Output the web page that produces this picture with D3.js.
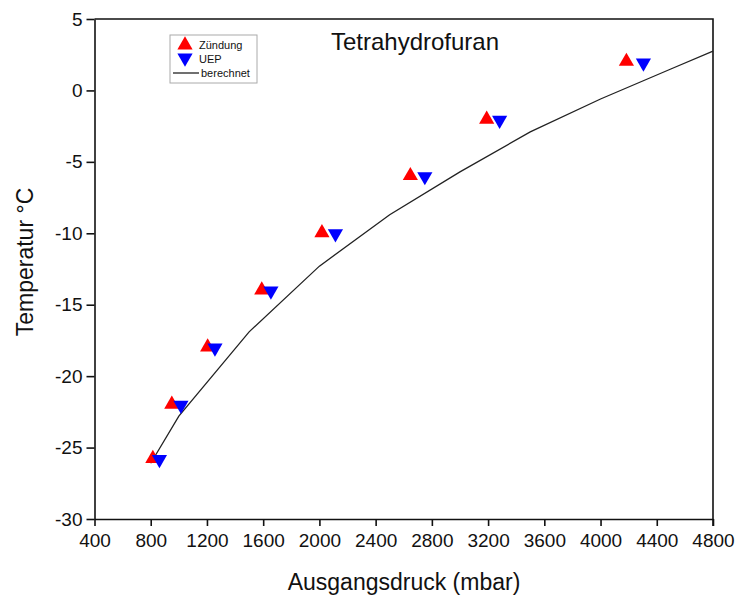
<!DOCTYPE html>
<html>
<head>
<meta charset="utf-8">
<script src="https://cdn.jsdelivr.net/npm/d3@7"></script>
<style>
  body { margin: 0; background: #fff; }
  text { font-family: "Liberation Sans", Arial, sans-serif; fill: #111; }
</style>
</head>
<body>
<div id="chart"></div>
<script>
// measured points (mbar, °C)
const zuendungX = [815, 950, 1205, 1590, 2018, 2647, 3190, 4184];
const zuendungY = [-25.7, -21.9, -17.9, -13.9, -9.9, -5.9, -1.95, 2.1];
const uepX = [862, 1015, 1257, 1655, 2114, 2750, 3282, 4305];
const uepY = [-25.9, -22.1, -18.1, -14.1, -10.1, -6.1, -2.15, 1.85];
// calculated curve
const calcX = [800, 1000, 1500, 2000, 2500, 3000, 3500, 4000, 4500, 4800];
const calcY = [-26.1, -22.8, -16.9, -12.3, -8.7, -5.7, -2.9, -0.6, 1.5, 2.75];
const xTicks = d3.range(400, 4801, 400);
const yTicks = d3.range(-30, 6, 5);

const width = 740, height = 599;
const margin = {left: 94.5, right: 27, top: 19, bottom: 80};

const svg = d3.select('#chart').append('svg')
  .attr('width', width).attr('height', height);

const x = d3.scaleLinear().domain([400, 4800]).range([margin.left, width - margin.right]);
const y = d3.scaleLinear().domain([-30, 5]).range([height - margin.bottom, margin.top]);

// axes (plain hyphen for negatives, no thousands separator)
const fmt = d => String(d);
const xAxis = svg.append('g')
  .attr('transform', `translate(0,${y(-30)})`)
  .call(d3.axisBottom(x).tickValues(xTicks).tickFormat(fmt).tickSize(7).tickPadding(8).tickSizeOuter(0));
const yAxis = svg.append('g')
  .attr('transform', `translate(${x(400)},0)`)
  .call(d3.axisLeft(y).tickValues(yTicks).tickFormat(fmt).tickSize(8).tickPadding(4).tickSizeOuter(0));
[xAxis, yAxis].forEach(a => {
  a.selectAll('path').attr('stroke', '#111').attr('stroke-width', 1.6);
  a.selectAll('line').attr('stroke', '#111').attr('stroke-width', 1.6);
  a.selectAll('text').style('font-size', '19px').attr('fill', '#111');
});

// top and right frame
svg.append('path')
  .attr('d', `M${x(400)},${y(5)}H${x(4800)}V${y(-30) + 7}`)
  .attr('fill', 'none').attr('stroke', '#111').attr('stroke-width', 1.6);

// calculated line
svg.append('path')
  .datum(calcX.map((d, i) => [d, calcY[i]]))
  .attr('d', d3.line().x(d => x(d[0])).y(d => y(d[1])))
  .attr('fill', 'none').attr('stroke', '#222').attr('stroke-width', 1.3);

const tri = d3.symbol().type(d3.symbolTriangle).size(100);

svg.append('g').selectAll('path')
  .data(zuendungX.map((d, i) => [d, zuendungY[i]]))
  .join('path')
  .attr('d', tri)
  .attr('transform', d => `translate(${x(d[0])},${y(d[1]) + 1})`)
  .attr('fill', '#ff0000');

svg.append('g').selectAll('path')
  .data(uepX.map((d, i) => [d, uepY[i]]))
  .join('path')
  .attr('d', tri)
  .attr('transform', d => `translate(${x(d[0])},${y(d[1]) - 1}) rotate(180)`)
  .attr('fill', '#0000ff');

// title
svg.append('text')
  .attr('x', 415).attr('y', 50)
  .attr('text-anchor', 'middle')
  .style('font-size', '24px')
  .text('Tetrahydrofuran');

// axis titles
svg.append('text')
  .attr('x', 404).attr('y', 590)
  .attr('text-anchor', 'middle')
  .style('font-size', '23px')
  .text('Ausgangsdruck (mbar)');
svg.append('text')
  .attr('transform', `translate(33,262) rotate(-90)`)
  .attr('text-anchor', 'middle')
  .style('font-size', '23px')
  .text('Temperatur °C');

// legend
const leg = svg.append('g');
leg.append('rect')
  .attr('x', 170).attr('y', 35).attr('width', 87).attr('height', 48)
  .attr('fill', 'none').attr('stroke', '#aaa').attr('stroke-width', 1);
leg.append('path').attr('d', tri).attr('transform', 'translate(185,45)').attr('fill', '#ff0000');
leg.append('path').attr('d', tri).attr('transform', 'translate(185,58) rotate(180)').attr('fill', '#0000ff');
leg.append('line').attr('x1', 173).attr('x2', 199).attr('y1', 73).attr('y2', 73)
  .attr('stroke', '#222').attr('stroke-width', 1.3);
const legLabels = ['Zündung', 'UEP', 'berechnet'];
leg.selectAll('text.l').data(legLabels).join('text')
  .attr('class', 'l')
  .attr('x', (d, i) => i === 2 ? 201 : 199)
  .attr('y', (d, i) => 49 + i * 14)
  .style('font-size', '11px')
  .text(d => d);
</script>
</body>
</html>
